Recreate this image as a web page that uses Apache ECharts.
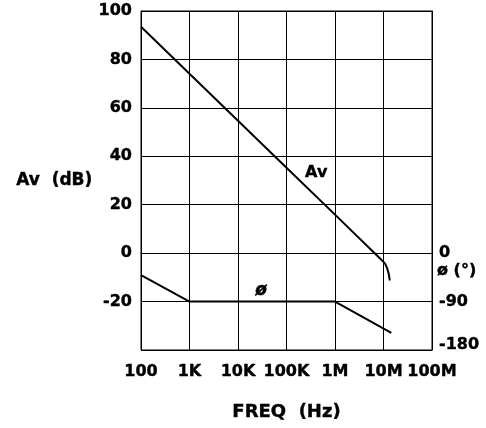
<!DOCTYPE html>
<html>
<head>
<meta charset="utf-8">
<script src="https://cdn.jsdelivr.net/npm/echarts@6/dist/echarts.min.js"></script>
<style>html,body{margin:0;padding:0;background:#fff}#c{width:486px;height:428px}</style>
</head>
<body>
<div id="c"></div>
<script>
// ---- data ----
const freqTicks = [100, 1e3, 1e4, 1e5, 1e6, 1e7, 1e8];
const freqLabels = ['100', '1K', '10K', '100K', '1M', '10M', '100M'];
const gainTicks = [-40, -20, 0, 20, 40, 60, 80, 100];
const phaseTickLabels = ['0', '-90', '-180'];

const avFreq = [100, 1e3, 1e4, 1e5, 1e6, 8.3e6, 1e7, 1.1e7, 1.2e7, 1.28e7, 1.35e7];
const avDb   = [93.5, 74.1, 54.7, 35.3, 15.9, -2.0, -3.6, -4.6, -6.5, -8.5, -11.3];

const phFreq = [100, 1e3, 1e6, 1.45e7];
const phDeg  = [-41, -90, -90, -148];

const xTitle = 'FREQ  (Hz)';
const yTitle = 'Av  (dB)';
const phaseTitle = 'ø (°)';
const avLabel = 'Av';
const phLabel = 'ø';

// ---- chart ----
const FONT = 'DejaVu Sans';
const chart = echarts.init(document.getElementById('c'), null, {renderer: 'canvas'});
const heavy = {textBorderColor: '#000', textBorderWidth: 0.4};
const lbl = Object.assign({fontFamily: FONT, fontWeight: 'bold', fontSize: 16, color: '#000'}, heavy);

function freqLabel(v) {
  const d = Math.round(Math.log10(v));
  const i = freqTicks.findIndex(t => Math.round(Math.log10(t)) === d);
  return i >= 0 ? freqLabels[i] : '';
}

chart.setOption({
  animation: false,
  grid: {left: 141, right: 54, top: 11, bottom: 78, show: true, borderColor: '#000', borderWidth: 1},
  xAxis: {
    type: 'log', logBase: 10, min: freqTicks[0], max: freqTicks[freqTicks.length - 1],
    name: xTitle, nameLocation: 'middle', nameGap: 53,
    nameTextStyle: Object.assign({fontFamily: FONT, fontWeight: 'bold', fontSize: 18, color: '#000'}, heavy),
    axisLine: {show: true, lineStyle: {color: '#000', width: 1}},
    axisTick: {show: false}, minorTick: {show: false},
    splitLine: {show: true, lineStyle: {color: '#000', width: 1}},
    axisLabel: Object.assign({margin: 14, formatter: freqLabel}, lbl)
  },
  yAxis: [{
    type: 'value', min: gainTicks[0], max: gainTicks[gainTicks.length - 1], interval: 20,
    name: yTitle, nameLocation: 'middle', nameRotate: 0, nameGap: 33,
    nameTextStyle: Object.assign({fontFamily: FONT, fontWeight: 'bold', fontSize: 17, color: '#000', align: 'right'}, heavy),
    axisLine: {show: true, lineStyle: {color: '#000', width: 1}},
    axisTick: {show: false},
    splitLine: {show: true, lineStyle: {color: '#000', width: 1}},
    axisLabel: Object.assign({margin: 9, formatter: v => v === gainTicks[0] ? '' : String(v)}, lbl)
  }, {
    type: 'value', min: -180, max: 450, interval: 90, position: 'right',
    axisLine: {show: true, lineStyle: {color: '#000', width: 1}},
    axisTick: {show: false}, splitLine: {show: false},
    axisLabel: Object.assign({
      margin: 7,
      formatter: v => {
        const s = String(v);
        if (!phaseTickLabels.includes(s)) return '';
        return v === -180 ? '{b|' + s + '}' : s;
      },
      rich: {b: Object.assign({padding: [0, 0, 10, 0]}, lbl)}
    }, lbl)
  }],
  series: [{
    type: 'line', yAxisIndex: 0, symbol: 'none', silent: true,
    lineStyle: {color: '#000', width: 2},
    data: avFreq.map((f, i) => [f, avDb[i]])
  }, {
    type: 'line', yAxisIndex: 1, symbol: 'none', silent: true,
    lineStyle: {color: '#000', width: 2},
    data: phFreq.map((f, i) => [f, phDeg[i]])
  }]
});

// annotations positioned through the chart's own scales
const pAv = chart.convertToPixel({xAxisIndex: 0, yAxisIndex: 0}, [4.1e5, 33]);
const pPh = chart.convertToPixel({xAxisIndex: 0, yAxisIndex: 0}, [3.0e4, -15.6]);
const pPt = chart.convertToPixel({xAxisIndex: 0, yAxisIndex: 1}, [1e8, -32]);
const gText = (x, y, text, font, align) => ({
  type: 'text', x: x, y: y,
  style: {text: text, font: font, fill: '#000', stroke: '#000', lineWidth: 0.4, align: align, verticalAlign: 'middle'}
});
chart.setOption({
  graphic: [
    gText(pAv[0], pAv[1], avLabel, 'bold 16px "' + FONT + '"', 'center'),
    gText(pPh[0], pPh[1], phLabel, 'italic bold 17px "' + FONT + '"', 'center'),
    gText(pPt[0] + 5, pPt[1], phaseTitle, 'bold 16px "' + FONT + '"', 'left')
  ]
});
</script>
</body>
</html>
